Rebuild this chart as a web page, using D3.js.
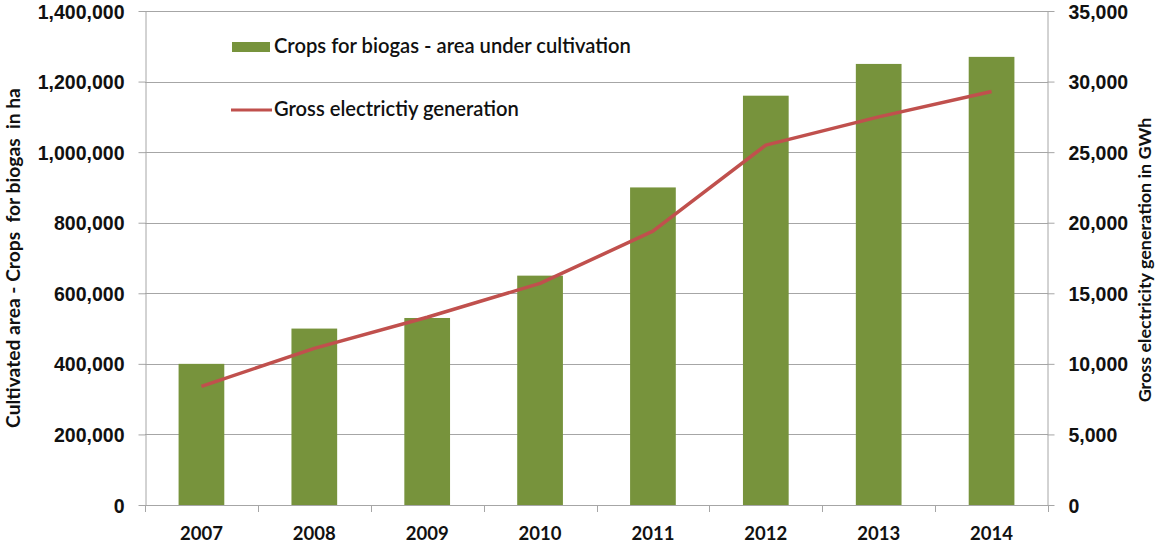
<!DOCTYPE html>
<html>
<head>
<meta charset="utf-8">
<script src="https://cdn.jsdelivr.net/npm/d3@7"></script>
<style>
  html, body { margin: 0; padding: 0; background: #fff; }
  svg { display: block; font-family: Lato, "Open Sans", "Liberation Sans", sans-serif; }
  text { white-space: pre; }
</style>
</head>
<body>
<svg id="chart" width="1155" height="545"></svg>
<script>
// Biogas crops: cultivated area (bars, left axis) and gross electricity generation (line, right axis)
const years = ["2007", "2008", "2009", "2010", "2011", "2012", "2013", "2014"];
const cropArea = [400000, 500000, 530000, 650000, 900000, 1160000, 1250000, 1270000];
const electricity = [8400, 11100, 13300, 15700, 19400, 25500, 27500, 29300];
const areaTicks = [0, 200000, 400000, 600000, 800000, 1000000, 1200000, 1400000];
const powerTicks = [0, 5000, 10000, 15000, 20000, 25000, 30000, 35000];
const legendLabels = ["Crops for biogas - area under cultivation", "Gross electrictiy generation"];
const leftTitle = "Cultivated area - Crops  for biogas  in ha";
const rightTitle = "Gross electricity generation in GWh";

const barColor = "#77933c";
const lineColor = "#c0504d";
const gridColor = "#a6a6a6";

const svg = d3.select("#chart");
const plot = { left: 145, right: 1048, top: 11, bottom: 505 };

const x = d3.scaleBand().domain(years).range([plot.left, plot.right]).padding(0);
const yArea = d3.scaleLinear().domain([0, 1400000]).range([plot.bottom, plot.top]);
const yPower = d3.scaleLinear().domain([0, 35000]).range([plot.bottom, plot.top]);
const fmt = d3.format(",");

// scale a text's font size so its rendered width equals the target width
function fitWidth(sel, target) {
  const node = sel.node();
  const size = parseFloat(sel.attr("font-size"));
  const len = node.getComputedTextLength();
  sel.attr("font-size", (size * target / len).toFixed(2));
}

// horizontal gridlines
svg.append("g")
  .selectAll("line")
  .data(areaTicks.filter(d => d > 0))
  .join("line")
  .attr("x1", plot.left).attr("x2", plot.right)
  .attr("y1", d => Math.round(yArea(d)) + 0.5).attr("y2", d => Math.round(yArea(d)) + 0.5)
  .attr("stroke", gridColor).attr("stroke-width", 1);

// bars
const barW = x.bandwidth() * 0.405;
svg.append("g")
  .selectAll("rect")
  .data(years)
  .join("rect")
  .attr("x", (d) => x(d) + (x.bandwidth() - barW) / 2)
  .attr("width", barW)
  .attr("y", (d, i) => yArea(cropArea[i]))
  .attr("height", (d, i) => yArea(0) - yArea(cropArea[i]))
  .attr("fill", barColor);

// left axis
const leftAxis = svg.append("g")
  .attr("transform", `translate(${plot.left + 0.5},0)`)
  .call(d3.axisLeft(yArea).tickValues(areaTicks).tickFormat(fmt).tickSize(7).tickSizeOuter(0).tickPadding(14));
leftAxis.select(".domain").attr("stroke", gridColor);
leftAxis.selectAll(".tick line").attr("stroke", gridColor);
leftAxis.selectAll(".tick text")
  .attr("font-size", 19.5).attr("font-weight", "bold").attr("fill", "#111")
  .attr("dy", "0.36em");

// right axis
const rightAxis = svg.append("g")
  .attr("transform", `translate(${plot.right - 0.5},0)`)
  .call(d3.axisRight(yPower).tickValues(powerTicks).tickFormat(fmt).tickSize(7).tickSizeOuter(0).tickPadding(14));
rightAxis.select(".domain").attr("stroke", gridColor);
rightAxis.selectAll(".tick line").attr("stroke", gridColor);
rightAxis.selectAll(".tick text")
  .attr("font-size", 19.5).attr("font-weight", "bold").attr("fill", "#111")
  .attr("dy", "0.36em");

// bottom axis: line, boundary ticks and centred year labels
const bottom = svg.append("g");
bottom.append("line")
  .attr("x1", plot.left).attr("x2", plot.right)
  .attr("y1", plot.bottom + 0.5).attr("y2", plot.bottom + 0.5)
  .attr("stroke", gridColor);
const bounds = years.map(d => x(d)).concat([plot.right]);
bottom.selectAll("line.tk")
  .data(bounds)
  .join("line")
  .attr("class", "tk")
  .attr("x1", d => Math.round(d) + 0.5).attr("x2", d => Math.round(d) + 0.5)
  .attr("y1", plot.bottom).attr("y2", plot.bottom + 7)
  .attr("stroke", gridColor);
bottom.selectAll("text")
  .data(years)
  .join("text")
  .attr("x", d => x(d) + x.bandwidth() / 2)
  .attr("y", 540)
  .attr("text-anchor", "middle")
  .attr("font-size", 18.5).attr("font-weight", "bold").attr("fill", "#111")
  .text(d => d);

// electricity line
const line = d3.line()
  .x((d, i) => x(years[i]) + x.bandwidth() / 2)
  .y(d => yPower(d));
svg.append("path")
  .datum(electricity)
  .attr("d", line)
  .attr("fill", "none")
  .attr("stroke", lineColor)
  .attr("stroke-width", 3.5)
  .attr("stroke-linejoin", "round");

// axis titles
const lt = svg.append("text")
  .attr("transform", "translate(20,258) rotate(-90)")
  .attr("text-anchor", "middle")
  .attr("font-size", 16).attr("font-weight", "bold").attr("fill", "#111")
  .text(leftTitle);
fitWidth(lt, 340);

const rt = svg.append("text")
  .attr("transform", "translate(1151,260) rotate(-90)")
  .attr("text-anchor", "middle")
  .attr("font-size", 15).attr("font-weight", "bold").attr("fill", "#111")
  .text(rightTitle);
fitWidth(rt, 285);

// legend
const legend = svg.append("g");
legend.append("rect")
  .attr("x", 232).attr("y", 42).attr("width", 38).attr("height", 10)
  .attr("fill", barColor);
const l1 = legend.append("text")
  .attr("x", 274).attr("y", 53)
  .attr("font-size", 18).attr("font-weight", 600).attr("fill", "#111")
  .text(legendLabels[0]);
fitWidth(l1, 357);
legend.append("line")
  .attr("x1", 231).attr("x2", 272).attr("y1", 110).attr("y2", 110)
  .attr("stroke", lineColor).attr("stroke-width", 3);
const l2 = legend.append("text")
  .attr("x", 274).attr("y", 116)
  .attr("font-size", 18).attr("font-weight", 600).attr("fill", "#111")
  .text(legendLabels[1]);
fitWidth(l2, 245);
</script>
</body>
</html>
